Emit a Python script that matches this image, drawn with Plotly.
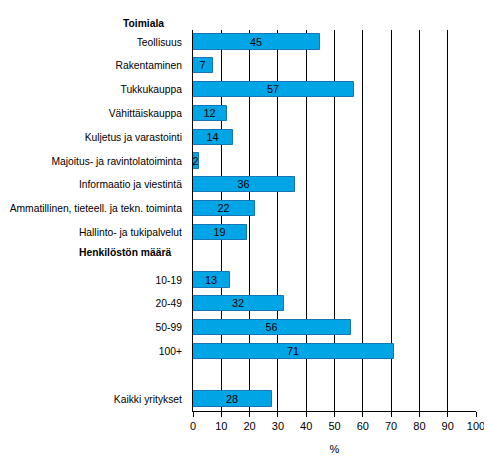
import plotly.graph_objects as go

# rows top to bottom; headers and the spacer have no bar
labels = ["Teollisuus", "Rakentaminen", "Tukkukauppa", "Vähittäiskauppa",
          "Kuljetus ja varastointi", "Majoitus- ja ravintolatoiminta",
          "Informaatio ja viestintä", "Ammatillinen, tieteell. ja tekn. toiminta",
          "Hallinto- ja tukipalvelut", "Henkilöstön määrä",
          "10-19", "20-49", "50-99", "100+", " ", "Kaikki yritykset"]
values = [45, 7, 57, 12, 14, 2, 36, 22, 19, None, 13, 32, 56, 71, None, 28]
headers = ["Toimiala", "Henkilöstön määrä"]
x_ticks = list(range(0, 101, 10))

# page body has an 8px margin, so the figure is drawn 8px smaller
OFF = 8
W, H = 492 - OFF, 471 - OFF
L, R, T, B = 193 - OFF, 16, 30 - OFF, 60
FS = 10.3

fig = go.Figure()
fig.add_trace(go.Bar(
    x=values, y=labels, orientation="h",
    width=0.64,
    marker=dict(color="#00A5E6", line=dict(color="#1577B5", width=1)),
    text=[str(v) if v is not None else "" for v in values],
    textposition="inside", insidetextanchor="middle",
    textangle=0, constraintext="none",
    textfont=dict(color="black", size=FS + 0.5),
    hoverinfo="skip",
))

ticktext = ["" if lab in headers else lab for lab in labels]

fig.update_layout(
    width=W, height=H,
    margin=dict(l=L, r=R, t=T, b=B, autoexpand=False),
    paper_bgcolor="white", plot_bgcolor="white",
    font=dict(family="Liberation Sans, Arial, sans-serif", size=FS, color="black"),
    showlegend=False,
    bargap=0,
)
fig.update_xaxes(
    range=[0, 100], tickvals=x_ticks, automargin=False,
    showgrid=True, gridcolor="black", gridwidth=1,
    showline=True, linecolor="black", linewidth=1,
    ticks="outside", ticklen=5, tickcolor="black",
    tickfont=dict(size=FS + 0.7),
    zeroline=False, fixedrange=True,
    title=dict(text="%", standoff=14, font=dict(size=FS + 0.7)),
)
fig.update_yaxes(
    type="category", categoryorder="array", categoryarray=labels,
    autorange="reversed", automargin=False,
    tickvals=labels, ticktext=ticktext,
    showline=True, linecolor="black", linewidth=1,
    ticks="", showgrid=False, ticklabelstandoff=8,
    fixedrange=True,
)

# section headers
fig.add_annotation(text="<b>Toimiala</b>", xref="paper", yref="paper",
                   x=(166 - 193) / (492 - 193 - R), y=1, xanchor="right", yanchor="bottom",
                   yshift=-1, showarrow=False, font=dict(size=FS))
fig.add_annotation(text="<b>Henkilöstön määrä</b>", xref="paper", yref="y",
                   x=(173 - 193) / (492 - 193 - R), y=headers[1], xanchor="right",
                   yshift=4, showarrow=False, font=dict(size=FS))

fig.write_html("out.html")
